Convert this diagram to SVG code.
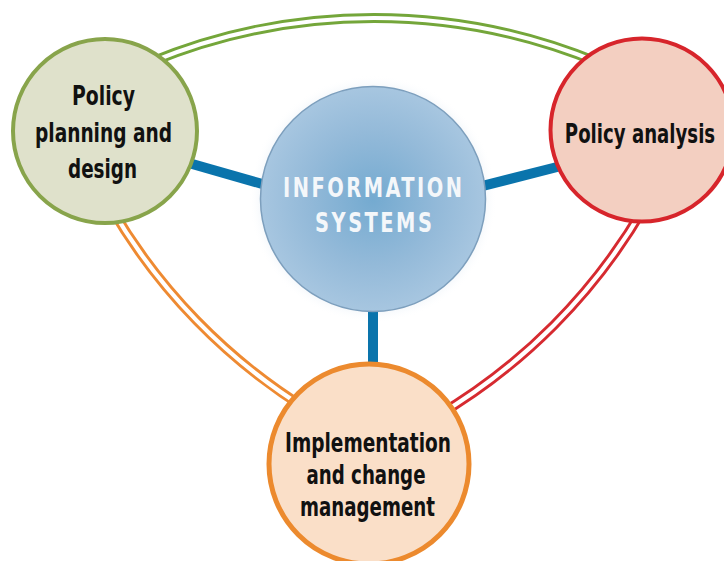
<svg xmlns="http://www.w3.org/2000/svg" width="724" height="561" viewBox="0 0 724 561">
  <defs>
    <radialGradient id="blueFill" cx="0.5" cy="0.5" r="0.5">
      <stop offset="0" stop-color="#74aad0"/>
      <stop offset="0.6" stop-color="#94bad9"/>
      <stop offset="1" stop-color="#a7c6e0"/>
    </radialGradient>
    <radialGradient id="halo" cx="0.5" cy="0.5" r="0.5">
      <stop offset="0.85" stop-color="#e6eef6" stop-opacity="1"/>
      <stop offset="1" stop-color="#ffffff" stop-opacity="0"/>
    </radialGradient>
  </defs>
  <style>
    .link { fill: none; stroke: #0a74ac; stroke-width: 10; }
    .dbl { fill: none; stroke-width: 10; }
    .dblgap { fill: none; stroke: #ffffff; stroke-width: 4.2; }
    .label { font-family: "Liberation Sans Narrow", "DejaVu Sans Condensed", "Liberation Sans", sans-serif; font-weight: bold; font-size: 27px; fill: #111111; text-anchor: middle; }
    .center { font-family: "DejaVu Sans Condensed", "Liberation Sans", sans-serif; font-weight: bold; font-size: 27px; fill: #f4f7fa; text-anchor: middle; }
  </style>

  <circle cx="373" cy="199" r="124" fill="url(#halo)"/>

  <g id="connectors">
    <line class="link" x1="180" y1="160.5" x2="275" y2="187.6"/>
    <line class="link" x1="470" y1="189.2" x2="565" y2="165"/>
    <line class="link" x1="373" y1="300" x2="373" y2="378"/>

    <path class="dbl" stroke="#74a63a" d="M150,62.4 A587,587 0 0 1 598,62.4"/>
    <path class="dblgap" d="M150,62.4 A587,587 0 0 1 598,62.4"/>

    <path class="dbl" stroke="#ee8a32" d="M110.5,206.8 A580,580 0 0 0 308,409.9"/>
    <path class="dblgap" d="M110.5,206.8 A580,580 0 0 0 308,409.9"/>

    <path class="dbl" stroke="#d62a30" d="M644.5,206.8 A580,580 0 0 1 436,416.6"/>
    <path class="dblgap" d="M644.5,206.8 A580,580 0 0 1 436,416.6"/>
  </g>

  <g id="information-systems">
    <circle cx="373" cy="199" r="112.5" fill="url(#blueFill)" stroke="#7d9fbd" stroke-width="1.5"/>
    <text class="center" transform="translate(372.5,197) scale(0.8,1)" x="0" y="0" textLength="224" lengthAdjust="spacing">INFORMATION</text>
    <text class="center" transform="translate(373.5,232) scale(0.8,1)" x="0" y="0" textLength="146" lengthAdjust="spacing">SYSTEMS</text>
  </g>

  <g id="policy-planning">
    <circle cx="105" cy="131" r="92" fill="#dfe1cb" stroke="#88a44b" stroke-width="4"/>
    <text class="label" x="103.5" y="105" textLength="63" lengthAdjust="spacingAndGlyphs">Policy</text>
    <text class="label" x="103.5" y="142" textLength="137" lengthAdjust="spacingAndGlyphs">planning and</text>
    <text class="label" x="102.5" y="178" textLength="69" lengthAdjust="spacingAndGlyphs">design</text>
  </g>

  <g id="policy-analysis">
    <circle cx="642" cy="130" r="91.5" fill="#f3cfc1" stroke="#d7252b" stroke-width="4"/>
    <text class="label" transform="translate(640,143) scale(0.68,1)" x="0" y="0" textLength="221" lengthAdjust="spacingAndGlyphs">Policy analysis</text>
  </g>

  <g id="implementation">
    <circle cx="369" cy="464" r="100" fill="#fadfc8" stroke="#ec8a2e" stroke-width="5"/>
    <text class="label" x="368" y="452" textLength="166" lengthAdjust="spacingAndGlyphs">Implementation</text>
    <text class="label" x="366" y="484" textLength="119" lengthAdjust="spacingAndGlyphs">and change</text>
    <text class="label" x="367.5" y="516" textLength="135" lengthAdjust="spacingAndGlyphs">management</text>
  </g>
</svg>
